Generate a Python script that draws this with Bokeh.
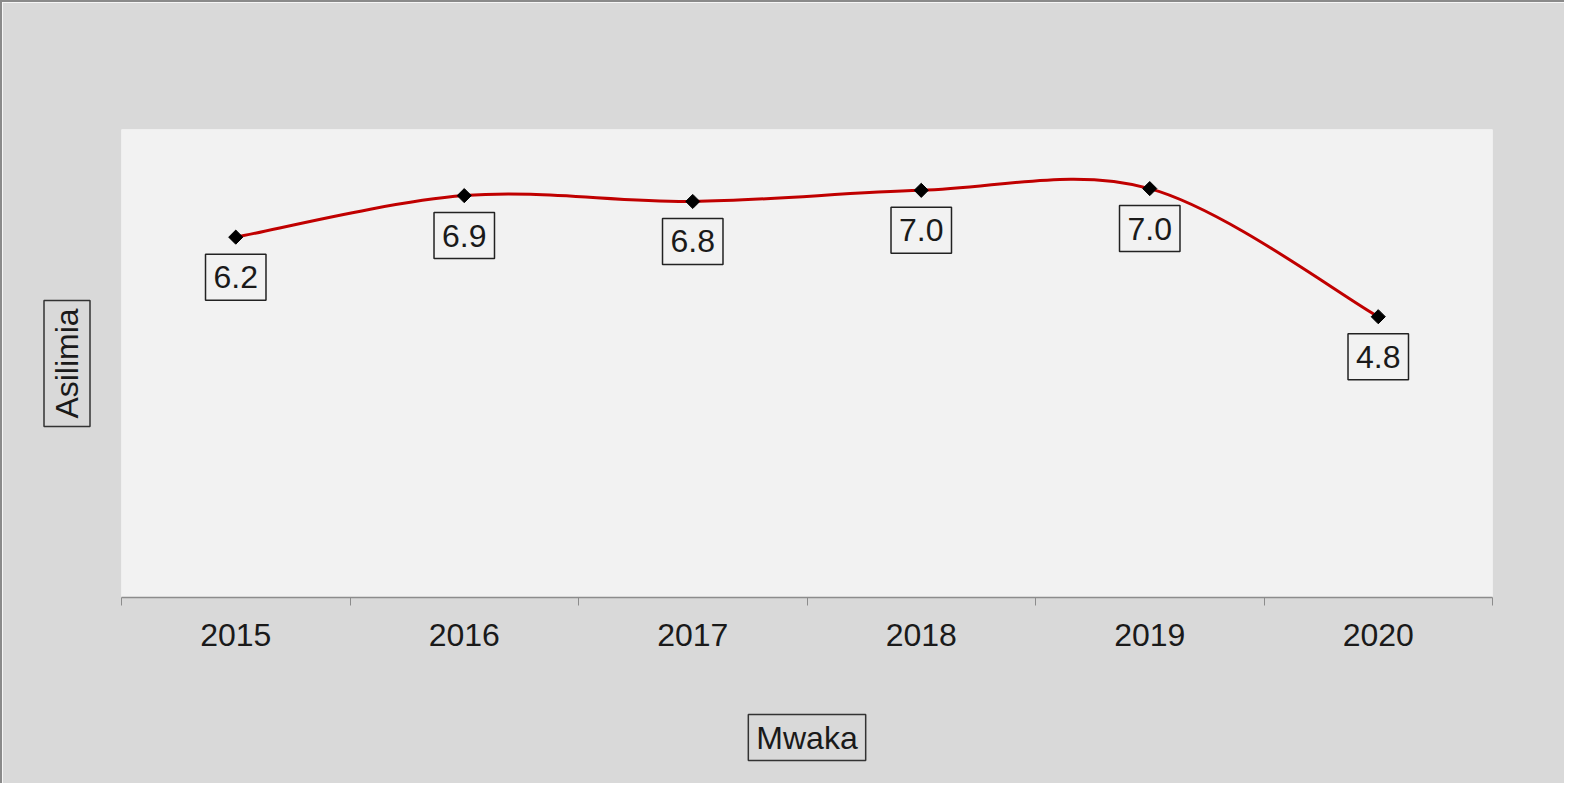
from bokeh.plotting import figure
from bokeh.models import Range1d, FixedTicker, Label, ColumnDataSource, Title
from bokeh.embed import file_html
from bokeh.resources import INLINE

years = ["2015", "2016", "2017", "2018", "2019", "2020"]
values = [6.16, 6.87, 6.77, 6.96, 6.99, 4.80]
labels = ["6.2", "6.9", "6.8", "7.0", "7.0", "4.8"]

xs = list(range(len(years)))
FONT = "Liberation Sans"
BG = "#d9d9d9"

p = figure(width=1564, height=783, output_backend="svg", toolbar_location=None,
           x_range=Range1d(-0.5, len(years) - 0.5), y_range=Range1d(0, 8),
           min_border_left=119, min_border_right=74, min_border_top=127, min_border_bottom=188)
p.background_fill_color = "#f2f2f2"
p.border_fill_color = BG
p.outline_line_color = None
p.grid.visible = False
p.yaxis.visible = False
p.styles = {"border-top": "2px solid #8a8a8a", "border-left": "2px solid #8a8a8a"}

ax = p.xaxis[0]
ax.ticker = FixedTicker(ticks=xs, minor_ticks=[i - 0.5 for i in range(len(years) + 1)])
ax.major_label_overrides = {i: y for i, y in zip(xs, years)}
ax.major_tick_out = 0
ax.major_tick_in = 0
ax.minor_tick_out = 8
ax.minor_tick_in = 0
ax.minor_tick_line_color = "#8c8c8c"
ax.axis_line_color = "#8c8c8c"
ax.axis_line_width = 1.5
ax.major_label_text_font = FONT
ax.major_label_text_font_size = "32px"
ax.major_label_text_color = "#1a1a1a"
ax.major_label_standoff = 18
# blank spacer label to push the boxed title further down
ax.axis_label = " "
ax.axis_label_text_font = FONT
ax.axis_label_text_font_size = "32px"
ax.axis_label_standoff = 25

# smooth curve (Catmull-Rom style bezier segments, like spreadsheet smoothing)
x0, y0, x1, y1, cx0, cy0, cx1, cy1 = [], [], [], [], [], [], [], []
n = len(xs)
for i in range(n - 1):
    pa = (xs[max(i - 1, 0)], values[max(i - 1, 0)])
    pb = (xs[i], values[i])
    pc = (xs[i + 1], values[i + 1])
    pd = (xs[min(i + 2, n - 1)], values[min(i + 2, n - 1)])
    x0.append(pb[0]); y0.append(pb[1]); x1.append(pc[0]); y1.append(pc[1])
    cx0.append(pb[0] + (pc[0] - pa[0]) / 6); cy0.append(pb[1] + (pc[1] - pa[1]) / 6)
    cx1.append(pc[0] - (pd[0] - pb[0]) / 6); cy1.append(pc[1] - (pd[1] - pb[1]) / 6)
bz = ColumnDataSource(dict(x0=x0, y0=y0, x1=x1, y1=y1, cx0=cx0, cy0=cy0, cx1=cx1, cy1=cy1))
p.bezier(x0="x0", y0="y0", x1="x1", y1="y1", cx0="cx0", cy0="cy0", cx1="cx1", cy1="cy1",
         source=bz, line_color="#c00000", line_width=3)

p.scatter(xs, values, marker="square", angle=0.7854, size=10, fill_color="black", line_color="black")

for x, v, t in zip(xs, values, labels):
    p.add_layout(Label(x=x, y=v, y_offset=-40, text=t, text_align="center", text_baseline="middle",
                       text_font=FONT, text_font_size="32px", text_color="#1a1a1a",
                       border_line_color="#222222", border_line_width=1.5, padding=(8, 12)))

p.add_layout(Title(text="Mwaka", align="center", standoff=0, text_font=FONT,
                   text_font_size="32px", text_font_style="normal", text_color="#1a1a1a",
                   border_line_color="#333333", border_line_width=1.5, padding=(8, 5)), "below")
p.add_layout(Title(text="Asilimia", align="center", standoff=63, text_font=FONT,
                   text_font_size="32px", text_font_style="normal", text_color="#1a1a1a",
                   border_line_color="#333333", border_line_width=1.5, padding=(8, 5)), "left")

open("out.html", "w").write(file_html(p, INLINE))
